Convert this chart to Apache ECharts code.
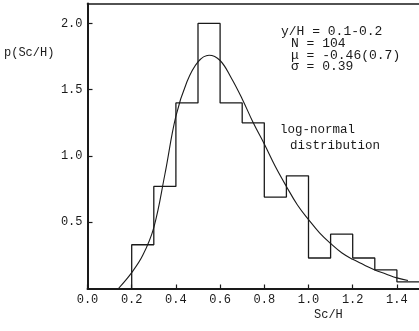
<!DOCTYPE html>
<html>
<head>
<meta charset="utf-8">
<script src="https://cdn.jsdelivr.net/npm/echarts@6/dist/echarts.min.js"></script>
<style>
  html, body { margin: 0; padding: 0; background: #fff; }
  #chart { width: 419px; height: 331px; }
</style>
</head>
<body>
<div id="chart"></div>
<script>
// Histogram of Sc/H (bin edges and probability densities)
const binEdges = [0.2, 0.3, 0.4, 0.5, 0.6, 0.7, 0.8, 0.9, 1.0, 1.1, 1.2, 1.3, 1.4, 1.5];
const density  = [0.33, 0.77, 1.40, 2.00, 1.40, 1.25, 0.69, 0.85, 0.23, 0.41, 0.23, 0.14, 0.05];

// Fitted log-normal distribution curve
const curveX = [0.14, 0.2, 0.25, 0.3, 0.35, 0.4, 0.45, 0.5, 0.55, 0.6, 0.65, 0.7, 0.75, 0.8,
                0.85, 0.9, 0.95, 1.0, 1.05, 1.1, 1.15, 1.2, 1.25, 1.3, 1.35, 1.4, 1.45];
const curveY = [0.0, 0.12, 0.25, 0.46, 0.86, 1.30, 1.56, 1.71, 1.76, 1.72, 1.59, 1.43, 1.25, 1.09,
                0.92, 0.77, 0.63, 0.52, 0.42, 0.34, 0.27, 0.22, 0.18, 0.14, 0.11, 0.08, 0.06];

// Axis ticks
const xTicks = [0.0, 0.2, 0.4, 0.6, 0.8, 1.0, 1.2, 1.4];
const yTicks = [0.0, 0.5, 1.0, 1.5, 2.0];

// Annotation text
const statLines = ['y/H = 0.1-0.2', 'N = 104', 'μ = -0.46(0.7)', 'σ = 0.39'];
const curveLabel = ['log-normal', 'distribution'];

const FONT = '"Liberation Mono", "DejaVu Sans Mono", monospace';
const INK = '#1a1a1a';

// staircase outline of the histogram
const stepData = [[binEdges[0], 0]];
density.forEach((d, i) => stepData.push([binEdges[i + 1], d]));

const curveData = curveX.map((x, i) => [x, curveY[i]]);

const isTick = (list, v) => list.some(t => Math.abs(t - v) < 1e-6);

function label(x, y, text, size) {
  return {
    type: 'text', x: x, y: y,
    style: { text: text, font: size + 'px ' + FONT, fill: INK, verticalAlign: 'middle', align: 'left' }
  };
}

const chart = echarts.init(document.getElementById('chart'), null, { renderer: 'canvas' });
chart.setOption({
  animation: false,
  backgroundColor: '#fff',
  grid: { left: 87.5, right: -0.5, top: 3.5, bottom: 42.5, containLabel: false },
  xAxis: [{
    type: 'value', min: 0, max: 1.5, interval: 0.2,
    axisLine: { lineStyle: { color: INK, width: 2 } },
    axisTick: { inside: true, length: 4, lineStyle: { color: INK, width: 1.2 } },
    axisLabel: {
      showMaxLabel: false, color: INK, fontFamily: FONT, fontSize: 12, margin: 5,
      formatter: v => isTick(xTicks, v) ? v.toFixed(1) : ''
    },
    splitLine: { show: false }
  }, {
    type: 'value', position: 'top', min: 0, max: 1.5,
    axisLine: { show: true, onZero: false, lineStyle: { color: INK, width: 1.6 } },
    axisTick: { show: false }, axisLabel: { show: false }, splitLine: { show: false }
  }],
  yAxis: {
    type: 'value', min: 0, max: 2.15, interval: 0.5,
    axisLine: { show: true, lineStyle: { color: INK, width: 2 } },
    axisTick: { inside: true, length: 5, lineStyle: { color: INK, width: 1.2 } },
    axisLabel: {
      showMaxLabel: false, showMinLabel: false, color: INK, fontFamily: FONT, fontSize: 12, margin: 5,
      formatter: v => isTick(yTicks, v) ? v.toFixed(1) : ''
    },
    splitLine: { show: false }
  },
  series: [{
    type: 'line', data: stepData, step: 'start', symbol: 'none',
    lineStyle: { color: INK, width: 1.3 }, z: 3
  }, {
    type: 'line', data: curveData, smooth: 0.4, symbol: 'none',
    lineStyle: { color: INK, width: 1.1 }, z: 4
  }],
  graphic: [
    label(4, 53, 'p(Sc/H)', 12),
    label(314, 315, 'Sc/H', 12),
    label(281, 32, statLines[0], 13),
    label(291, 44, statLines[1], 13),
    label(291, 55.5, statLines[2], 13),
    label(291, 67, statLines[3], 13),
    label(280, 130, curveLabel[0], 12.5),
    label(290, 146, curveLabel[1], 12.5)
  ]
});
</script>
</body>
</html>
